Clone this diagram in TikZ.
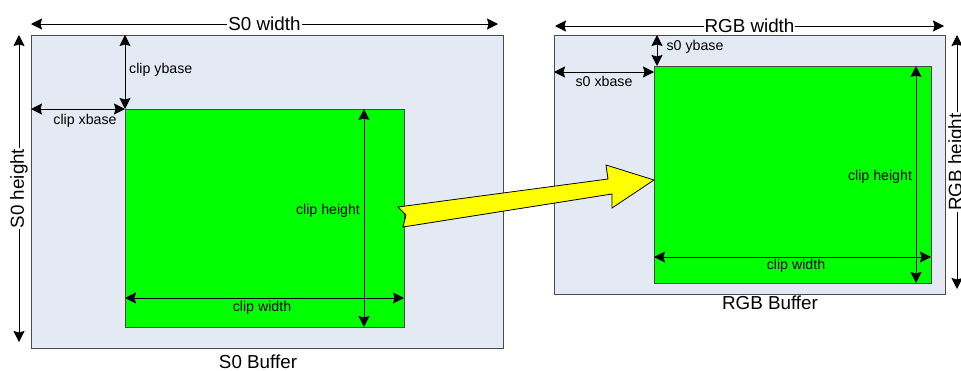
\documentclass[tikz,border=0pt]{standalone}
\usepackage{fontspec}
\setmainfont{Liberation Sans}
\usetikzlibrary{arrows.meta}
\definecolor{bufblue}{HTML}{E4EAF4}
\definecolor{clipgreen}{HTML}{00FF00}
\definecolor{boxgray}{HTML}{4A4A4A}
\definecolor{arrowyellow}{HTML}{FFFF00}
\tikzset{
  buf/.style={draw=boxgray, fill=bufblue, line width=1pt, inner sep=0pt, outer sep=0pt, anchor=north west},
  clipbox/.style={draw=boxgray, fill=clipgreen, line width=1pt, inner sep=0pt, outer sep=0pt, anchor=north west},
  dimtip/.tip={Stealth[length=11pt,width=11pt,inset=1.5pt]},
  dim/.style={black, line width=1pt, dimtip-dimtip},
  small/.style={font=\fontsize{14.2}{16}\selectfont, inner sep=1pt},
  big/.style={font=\fontsize{18.8}{20}\selectfont, inner sep=1pt},
  onlinelbl/.style={big, fill=white},
  blockarrow/.style={draw=black, fill=arrowyellow, line width=0.8pt, line join=miter},
}
\begin{document}
\begin{tikzpicture}[x=1pt,y=-1pt]
\useasboundingbox (0,0) rectangle (961,370);
\clip (0,0) rectangle (961,370);

% ---------- S0 buffer ----------
\node[buf, minimum width=472pt, minimum height=313pt] (s0) at (31,35) {};
\node[clipbox, minimum width=279pt, minimum height=218pt] (c0) at (125,109) {};

\coordinate (s0wL) at (31,24);
\coordinate (s0wR) at (498,24);
\draw[dim] (s0wL) -- node[onlinelbl] (s0wlbl) {S0 width} (s0wR);

\coordinate (s0hT) at (19,35);
\coordinate (s0hB) at (19,342);
\draw[dim] (s0hT) -- node[onlinelbl, rotate=90] (s0hlbl) {S0 height} (s0hB);

\coordinate (cybT) at (c0.north west |- s0.north west);
\draw[dim] (cybT) -- (c0.north west);
\node[small, anchor=west] (cyblbl) at (128,70) {clip ybase};

\coordinate (cxbL) at (s0.north west |- c0.north west);
\draw[dim] (cxbL) -- (c0.north west);
\node[small] (cxblbl) at (85,121) {clip xbase};

\coordinate (chT) at (364,109);
\coordinate (chB) at (364,327);
\draw[dim] (chT) -- (chB);
\node[small] (chlbl) at (328,211) {clip height};

\coordinate (cwL) at (125,298);
\coordinate (cwR) at (404,298);
\draw[dim] (cwL) -- (cwR);
\node[small] (cwlbl) at (262,308) {clip width};

\node[big] (s0name) at (258,362) {S0 Buffer};

% ---------- RGB buffer ----------
\node[buf, minimum width=391pt, minimum height=259pt] (rgb) at (554,35) {};
\node[clipbox, minimum width=277pt, minimum height=217pt] (c1) at (654,66) {};

\coordinate (rwL) at (555,26);
\coordinate (rwR) at (944,26);
\draw[dim] (rwL) -- node[onlinelbl] (rwlbl) {RGB width} (rwR);

\coordinate (rhT) at (957,35);
\coordinate (rhB) at (957,289);
\draw[dim] (rhT) -- node[onlinelbl, rotate=90] (rhlbl) {RGB height} (rhB);

\coordinate (sybT) at (657,35);
\coordinate (sybB) at (657,66);
\draw[dim] (sybT) -- (sybB);
\node[small] (syblbl) at (695,47) {s0 ybase};

\coordinate (sxbL) at (554,72);
\coordinate (sxbR) at (654,72);
\draw[dim] (sxbL) -- (sxbR);
\node[small] (sxblbl) at (604,81) {s0 xbase};

\coordinate (rchT) at (916,66);
\coordinate (rchB) at (916,283);
\draw[dim] (rchT) -- (rchB);
\node[small] (rchlbl) at (880,177) {clip height};

\coordinate (rcwL) at (654,257);
\coordinate (rcwR) at (931,257);
\draw[dim] (rcwL) -- (rcwR);
\node[small] (rcwlbl) at (796,266) {clip width};

\node[big] (rgbname) at (770,303) {RGB Buffer};

% ---------- yellow block arrow ----------
\draw[blockarrow] (398,207) -- (608,179) -- (606,165) -- (654,180) -- (612,208)
  -- (612,194) -- (403,227) -- (406,215) -- cycle;
\end{tikzpicture}
\end{document}
